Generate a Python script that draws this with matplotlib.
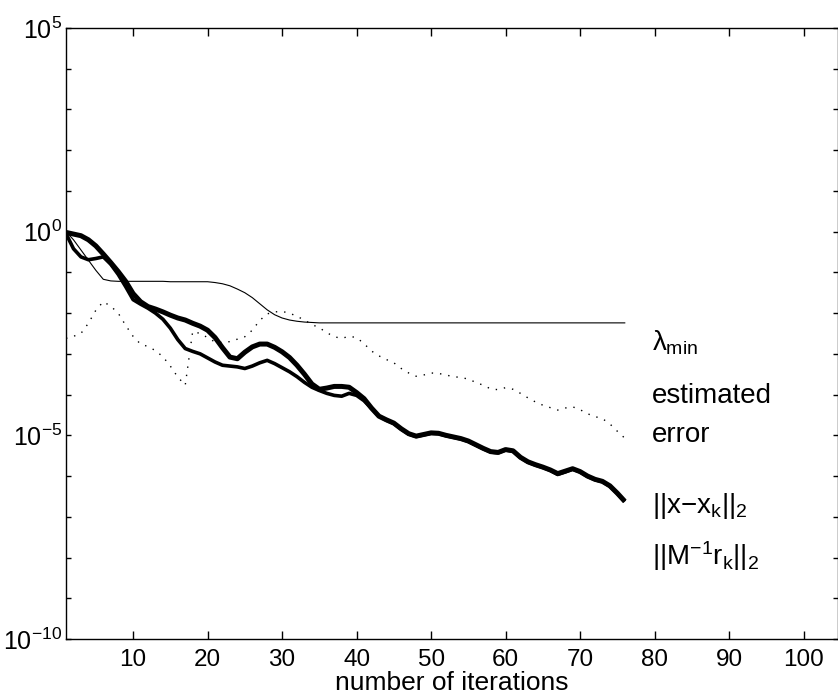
import numpy as np
import matplotlib
matplotlib.use("Agg")
import matplotlib.pyplot as plt
from matplotlib.ticker import LogFormatterSciNotation, NullFormatter

# ---------------------------------------------------------------------------
# data (log10 of the plotted quantities, one value per iteration)
# ---------------------------------------------------------------------------
iterations = np.arange(1, 77)

log_lambda_min = [
    0.0, -0.2, -0.45, -0.7, -0.95, -1.17, -1.21, -1.22, -1.22, -1.22,
    -1.22, -1.22, -1.22, -1.22, -1.23, -1.23, -1.23, -1.23, -1.23, -1.23,
    -1.25, -1.28, -1.33, -1.41, -1.5, -1.62, -1.77, -1.92, -2.04, -2.12,
    -2.17, -2.2, -2.22, -2.23, -2.24, -2.24, -2.24, -2.24, -2.24, -2.24,
    -2.24, -2.24, -2.24, -2.24, -2.24, -2.24, -2.24, -2.24, -2.24, -2.24,
    -2.24, -2.24, -2.24, -2.24, -2.24, -2.24, -2.24, -2.24, -2.24, -2.24,
    -2.24, -2.24, -2.24, -2.24, -2.24, -2.24, -2.24, -2.24, -2.24, -2.24,
    -2.24, -2.24, -2.24, -2.24, -2.24, -2.24]

log_est_error = [
    -2.62, -2.57, -2.5, -2.25, -1.93, -1.72, -1.83, -2.0, -2.3, -2.57,
    -2.76, -2.82, -2.92, -3.07, -3.3, -3.57, -3.77, -2.45, -2.5, -2.6,
    -2.71, -2.72, -2.7, -2.64, -2.58, -2.42, -2.18, -2.02, -1.97, -1.96,
    -2.0, -2.08, -2.17, -2.28, -2.36, -2.48, -2.58, -2.62, -2.57, -2.6,
    -2.75, -2.93, -3.05, -3.14, -3.22, -3.36, -3.47, -3.55, -3.52, -3.47,
    -3.48, -3.52, -3.56, -3.58, -3.62, -3.7, -3.77, -3.86, -3.88, -3.83,
    -3.87, -3.97, -4.08, -4.18, -4.26, -4.32, -4.38, -4.33, -4.3, -4.37,
    -4.47, -4.54, -4.59, -4.72, -4.9, -5.07]

log_err_norm = [
    -0.02, -0.06, -0.1, -0.2, -0.35, -0.55, -0.76, -0.98, -1.22, -1.52,
    -1.72, -1.84, -1.9, -1.97, -2.05, -2.12, -2.17, -2.25, -2.32, -2.42,
    -2.6, -2.85, -3.08, -3.12, -2.96, -2.83, -2.76, -2.76, -2.84, -2.95,
    -3.09, -3.28, -3.5, -3.74, -3.87, -3.84, -3.8, -3.8, -3.82, -3.95,
    -4.1, -4.33, -4.53, -4.62, -4.7, -4.84, -4.96, -5.02, -4.98, -4.94,
    -4.95, -5.0, -5.04, -5.08, -5.14, -5.23, -5.32, -5.4, -5.42, -5.35,
    -5.38, -5.54, -5.65, -5.72, -5.78, -5.85, -5.94, -5.88, -5.82, -5.89,
    -6.0, -6.08, -6.13, -6.24, -6.42, -6.62]

log_prec_res = [
    -0.05, -0.42, -0.62, -0.69, -0.66, -0.62, -0.8, -1.05, -1.35, -1.67,
    -1.78, -1.88, -2.0, -2.15, -2.37, -2.65, -2.87, -2.94, -3.0, -3.1,
    -3.2, -3.28, -3.3, -3.32, -3.36, -3.3, -3.22, -3.16, -3.24, -3.34,
    -3.44, -3.56, -3.7, -3.82, -3.9, -3.97, -4.02, -4.04, -3.97, -4.02,
    -4.15, -4.34, -4.53, -4.63, -4.71, -4.85, -4.97, -5.03, -4.99, -4.95,
    -4.96, -5.01, -5.05, -5.09, -5.15, -5.24, -5.33, -5.41, -5.43, -5.36,
    -5.39, -5.55, -5.66, -5.73, -5.79, -5.86, -5.96, -5.9, -5.83, -5.9,
    -6.01, -6.09, -6.14, -6.25, -6.43, -6.63]

labels = [r"$\lambda_{\mathrm{min}}$", "estimated", "error",
          r"$||\mathrm{x{-}x}_\mathrm{k}||_2$",
          r"$||\mathrm{M}^{{-}1}\mathrm{r}_\mathrm{k}||_2$"]
label_logy = [-2.72, -4.04, -4.98, -6.74, -7.97]

# ---------------------------------------------------------------------------
# plot
# ---------------------------------------------------------------------------
plt.rcParams['font.family'] = ['Liberation Sans', 'DejaVu Sans']
plt.rcParams['mathtext.fontset'] = 'custom'
plt.rcParams['mathtext.rm'] = 'Liberation Sans'
plt.rcParams['mathtext.it'] = 'Liberation Sans'
plt.rcParams['mathtext.bf'] = 'Liberation Sans'

fig = plt.figure(figsize=(8.38, 6.98), dpi=100)
ax = fig.add_axes([0.0788, 0.0845, 0.921, 0.8755])

ax.semilogy(iterations, 10.0 ** np.array(log_lambda_min), color='black', lw=0.8)
ax.semilogy(iterations, 10.0 ** np.array(log_est_error), color='black', lw=1.0,
            linestyle=(0, (1, 5)))
ax.semilogy(iterations, 10.0 ** np.array(log_prec_res), color='black', lw=2.6,
            solid_capstyle='butt')
ax.semilogy(iterations, 10.0 ** np.array(log_err_norm), color='black', lw=3.6,
            solid_capstyle='butt')

for lab, ly in zip(labels, label_logy):
    ax.text(79.6, 10.0 ** ly, lab, fontsize=20, va='center', ha='left')

ax.set_xlim(1, 104.6)
ax.set_ylim(1e-10, 1e5)
ax.set_xticks(np.arange(10, 101, 10))
ax.set_yticks([1e-10, 1e-5, 1e0, 1e5])
ax.set_yticks([10.0 ** k for k in range(-10, 6)], minor=True)
ax.yaxis.set_major_formatter(LogFormatterSciNotation())
ax.yaxis.set_minor_formatter(NullFormatter())
ax.tick_params(axis='both', which='both', direction='in', top=True, right=True,
               width=1.0)
ax.tick_params(axis='x', which='major', length=6, pad=7, labelsize=17.5)
ax.tick_params(axis='y', which='both', length=3.6, pad=3, labelsize=18)
for spine in ax.spines.values():
    spine.set_linewidth(1.0)

ax.set_xlabel("number of iterations", fontsize=19, labelpad=0)

fig.savefig("out.png", dpi=100)
